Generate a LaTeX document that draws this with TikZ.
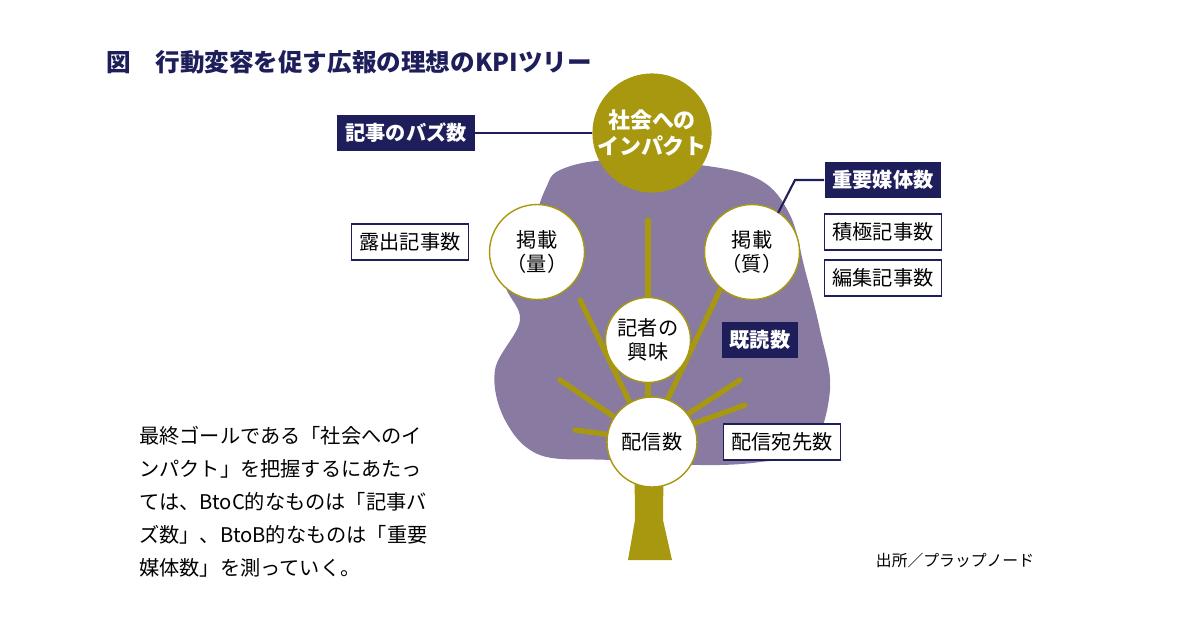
\documentclass[tikz,border=0pt]{standalone}
\usepackage{fontspec}
\setmainfont{Noto Sans CJK JP}
\usetikzlibrary{positioning}
\definecolor{navyColor}{RGB}{30,30,90}
\definecolor{oliveColor}{RGB}{168,152,16}
\definecolor{canopyColor}{RGB}{136,122,160}
\tikzset{
  navybox/.style={fill=navyColor, text=white, font=\bfseries\fontsize{11.5pt}{13pt}\selectfont, inner sep=4.5pt, minimum height=0.72cm},
  whitebox/.style={fill=white, draw=navyColor, line width=0.8pt, font=\fontsize{11.5pt}{13pt}\selectfont, inner sep=4.5pt, minimum height=0.72cm},
  kpicircle/.style={circle, fill=white, draw=oliveColor, line width=0.8pt, align=center, font=\fontsize{11.5pt}{14pt}\selectfont, inner sep=0pt},
  branch/.style={draw=oliveColor, line width=3pt, line cap=round}
}
\begin{document}
\begin{tikzpicture}[x=0.02cm, y=-0.02cm]
    \useasboundingbox (0,0) rectangle (1200,630);

    % Canopy and trunk
    \fill[canopyColor] plot[smooth cycle, tension=0.6] coordinates {
      (560,170) (610,160) (700,165) (760,180) (790,215) (805,270)
      (820,330) (830,390) (810,450) (760,462) (700,465) (610,460)
      (540,455) (505,420) (495,370) (520,320) (505,280) (530,230) (545,190)};
    \fill[oliveColor] (634,420) -- (664,420) -- (663,520) -- (672,560) -- (628,560) -- (635,520) -- cycle;
    \draw[branch] (648,440) -- (648,220);
    \draw[branch] (648,440) -- (580,300);
    \draw[branch] (648,440) -- (720,290);
    \draw[branch] (648,440) -- (560,380);
    \draw[branch] (648,440) -- (740,380);
    \draw[branch] (648,440) -- (575,430);
    \draw[branch] (648,440) -- (745,405);

    % Nodes
    \node (impact) [circle, fill=oliveColor, text=white, align=center, minimum size=2.3cm, inner sep=0pt,
      font=\bfseries\fontsize{12.5pt}{15pt}\selectfont] at (652,133) {社会への\\インパクト};
    \node (ryo) [kpicircle, minimum size=1.9cm] at (537,252) {掲載\\（量）};
    \node (shitsu) [kpicircle, minimum size=1.9cm] at (752,252) {掲載\\（質）};
    \node (kyomi) [kpicircle, minimum size=1.7cm] at (648,340) {記者の\\興味};
    \node (haishin) [kpicircle, minimum size=1.8cm] at (652,442) {配信数};

    \node (buzz) [navybox] at (406,133) {記事のバズ数};
    \node (juyo) [navybox] at (883,180) {重要媒体数};
    \node (kidoku) [navybox] at (760,340) {既読数};
    \node (roshutsu) [whitebox] at (410,242) {露出記事数};
    \node (sekkyoku) [whitebox] at (883,232) {積極記事数};
    \node (henshu) [whitebox] at (883,278) {編集記事数};
    \node (atesaki) [whitebox] at (782,442) {配信宛先数};

    % Connectors
    \draw[navyColor, line width=1.2pt] (buzz) -- (impact);
    \coordinate (bend) at (795,180);
    \draw[navyColor, line width=1.2pt] (shitsu.north east) ++(-8,-5) -- (bend) -- (juyo);

    % Texts
    \node (title) [anchor=west, text=navyColor, font=\bfseries\fontsize{14pt}{16pt}\selectfont] at (100,62) {図　行動変容を促す広報の理想のKPIツリー};
    \node (note) [anchor=north west, align=left, text width=6cm, font=\fontsize{11.5pt}{18.8pt}\selectfont] at (133,420)
      {最終ゴールである「社会へのイ\\ンパクト」を把握するにあたっ\\ては、BtoC的なものは「記事バ\\ズ数」、BtoB的なものは「重要\\媒体数」を測っていく。};
    \node (source) [font=\fontsize{9pt}{11pt}\selectfont] at (955,560) {出所／プラップノード};

\end{tikzpicture}
\end{document}
